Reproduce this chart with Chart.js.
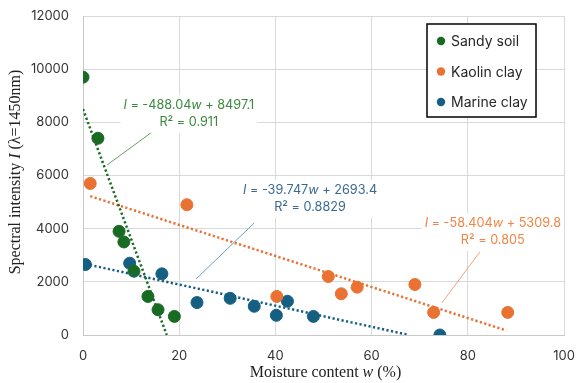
<!DOCTYPE html>
<html>
<head>
<meta charset="utf-8">
<script src="https://cdn.jsdelivr.net/npm/chart.js@4.4.1/dist/chart.umd.min.js"></script>
<style>
  html, body { margin: 0; padding: 0; background: #fff; }
  #wrap { width: 576px; height: 383px; }
</style>
</head>
<body>
<div id="wrap"><canvas id="myChart" width="576" height="383"></canvas></div>
<script>
var seriesNames = ["Sandy soil", "Kaolin clay", "Marine clay"];
var seriesColors = ["#196b24", "#e97132", "#156082"];
var labelColors = ["#3a8a3e", "#f08545", "#3a6a92"];
var leaderColors = ["#5fa062", "#f3a273", "#6aa3c4"];

var sandyX = [0, 3.1, 7.5, 8.5, 10.6, 13.5, 15.6, 19.0];
var sandyY = [9700, 7400, 3900, 3500, 2400, 1450, 950, 700];
var kaolinX = [1.5, 21.6, 40.3, 51.0, 53.7, 57.0, 69.0, 72.9, 88.3];
var kaolinY = [5700, 4900, 1450, 2200, 1550, 1800, 1900, 850, 850];
var marineX = [0.5, 9.7, 16.4, 23.7, 30.6, 35.6, 40.2, 42.5, 47.9, 74.2];
var marineY = [2650, 2700, 2300, 1220, 1380, 1080, 740, 1270, 700, 0];

// trendline end points (as drawn, clipped at I = 0)
var sandyTrendX = [0, 17.41];
var sandyTrendY = [8497, 0];
var kaolinTrendX = [1.5, 88];
var kaolinTrendY = [5222, 170];
var marineTrendX = [0.5, 67.76];
var marineTrendY = [2673, 0];

var slopes = ["-488.04", "-58.404", "-39.747"];
var intercepts = ["8497.1", "5309.8", "2693.4"];
var rSquared = ["0.911", "0.805", "0.8829"];

var xTicks = [0, 20, 40, 60, 80, 100];
var yTicks = [0, 2000, 4000, 6000, 8000, 10000, 12000];

function pts(xs, ys) {
  var out = [];
  for (var i = 0; i < xs.length; i++) out.push({x: xs[i], y: ys[i]});
  return out;
}

var uiFont = "Inter, 'Noto Sans', sans-serif";
var serifFont = "'Liberation Serif', 'DejaVu Serif', serif";

// label boxes and leaders, positioned in data units
var labelPos = [
  {x: 22.0, y: 8650, lx1: 14.1, ly1: 7600, lx2: 5.0, ly2: 6395},
  {x: 85.2, y: 4214, lx1: 82.5, ly1: 3123, lx2: 74.6, ly2: 1204},
  {x: 47.2, y: 5455, lx1: 35.6, ly1: 4214, lx2: 23.5, ly2: 2107}
];

function drawRich(ctx, parts, cx, cy, size, family) {
  var total = 0;
  for (var i = 0; i < parts.length; i++) {
    ctx.font = (parts[i].it ? "italic " : "") + size + "px " + family;
    parts[i].w = ctx.measureText(parts[i].t).width;
    total += parts[i].w;
  }
  var x = cx - total / 2;
  ctx.textAlign = "left";
  ctx.textBaseline = "middle";
  for (var j = 0; j < parts.length; j++) {
    ctx.font = (parts[j].it ? "italic " : "") + size + "px " + family;
    ctx.fillText(parts[j].t, x, cy);
    x += parts[j].w;
  }
  return total;
}

var extras = {
  id: "extras",
  afterDatasetsDraw: function(chart) {
    var ctx = chart.ctx;
    var xs = chart.scales.x, ys = chart.scales.y;
    var fs = 12.7;
    ctx.save();
    // trend labels
    for (var i = 0; i < labelPos.length; i++) {
      var p = labelPos[i];
      var cx = xs.getPixelForValue(p.x), cy = ys.getPixelForValue(p.y);
      var line1 = [{t: "I", it: true}, {t: " = " + slopes[i]}, {t: "w", it: true}, {t: " + " + intercepts[i]}];
      var w = 0;
      line1.forEach(function(q) { ctx.font = (q.it ? "italic " : "") + fs + "px " + uiFont; w += ctx.measureText(q.t).width; });
      ctx.fillStyle = "#fff";
      ctx.fillRect(cx - w / 2 - 3, cy - 10, w + 6, 38);
      ctx.fillStyle = labelColors[i];
      drawRich(ctx, line1, cx, cy, fs, uiFont);
      drawRich(ctx, [{t: "R² = " + rSquared[i]}], cx, cy + 17, fs, uiFont);
      ctx.strokeStyle = leaderColors[i];
      ctx.lineWidth = 1;
      ctx.beginPath();
      ctx.moveTo(xs.getPixelForValue(p.lx1), ys.getPixelForValue(p.ly1));
      ctx.lineTo(xs.getPixelForValue(p.lx2), ys.getPixelForValue(p.ly2));
      ctx.stroke();
    }
    // legend
    var lx = 427, ly = 24, lw = 109, lh = 93;
    ctx.fillStyle = "#fff";
    ctx.fillRect(lx, ly, lw, lh);
    ctx.strokeStyle = "#000";
    ctx.lineWidth = 1.5;
    ctx.strokeRect(lx, ly, lw, lh);
    for (var k = 0; k < seriesNames.length; k++) {
      var ry = ly + 17 + k * 30.5;
      ctx.fillStyle = seriesColors[k];
      ctx.beginPath();
      ctx.arc(lx + 14, ry, 4.2, 0, Math.PI * 2);
      ctx.fill();
      ctx.fillStyle = "#262626";
      ctx.font = "14px " + uiFont;
      ctx.textAlign = "left";
      ctx.textBaseline = "middle";
      ctx.fillText(seriesNames[k], lx + 24, ry + 1);
    }
    // axis titles
    ctx.fillStyle = "#222";
    var area = chart.chartArea;
    drawRich(ctx, [{t: "Moisture content "}, {t: "w", it: true}, {t: " (%)"}], (area.left + area.right) / 2 + 2, 373, 16, serifFont);
    ctx.save();
    ctx.translate(16, 172);
    ctx.rotate(-Math.PI / 2);
    drawRich(ctx, [{t: "Spectral intensity "}, {t: "I", it: true}, {t: " (λ=1450nm)"}], 0, 0, 16, serifFont);
    ctx.restore();
    ctx.restore();
  }
};

function trend(xs, ys, i) {
  return {
    type: "line", data: pts(xs, ys), borderColor: seriesColors[i], borderWidth: 2.5,
    borderDash: [2.2, 2.4], pointRadius: 0, fill: false, order: 0
  };
}

function scatter(xs, ys, i) {
  return {
    type: "scatter", label: seriesNames[i], data: pts(xs, ys), backgroundColor: seriesColors[i],
    borderColor: seriesColors[i], pointRadius: 6, pointHoverRadius: 6, order: 1
  };
}

new Chart("myChart", {
  type: "scatter",
  data: {
    datasets: [
      trend(sandyTrendX, sandyTrendY, 0),
      trend(kaolinTrendX, kaolinTrendY, 1),
      trend(marineTrendX, marineTrendY, 2),
      scatter(sandyX, sandyY, 0),
      scatter(kaolinX, kaolinY, 1),
      scatter(marineX, marineY, 2)
    ]
  },
  options: {
    responsive: false,
    animation: false,
    layout: {padding: {top: 16, right: 12, left: 0, bottom: 0}},
    plugins: {legend: {display: false}, tooltip: {enabled: false}},
    scales: {
      x: {
        type: "linear", min: 0, max: 100,
        afterBuildTicks: function(s) { s.ticks = xTicks.map(function(v) { return {value: v}; }); },
        afterFit: function(s) { s.height = 48; s.paddingLeft = 0; s.paddingRight = 0; },
        grid: {color: "#d9d9d9", drawTicks: false},
        border: {color: "#c8c8c8"},
        ticks: {padding: 13, color: "#333", font: {size: 13, family: uiFont}}
      },
      y: {
        type: "linear", min: 0, max: 12000,
        afterBuildTicks: function(s) { s.ticks = yTicks.map(function(v) { return {value: v}; }); },
        afterFit: function(s) { s.width = 83; s.paddingTop = 0; s.paddingBottom = 0; },
        grid: {color: "#d9d9d9", drawTicks: false},
        border: {color: "#c8c8c8"},
        ticks: {padding: 14, color: "#333", font: {size: 13, family: uiFont}, callback: function(v) { return String(v); }}
      }
    }
  },
  plugins: [extras]
});
</script>
</body>
</html>
